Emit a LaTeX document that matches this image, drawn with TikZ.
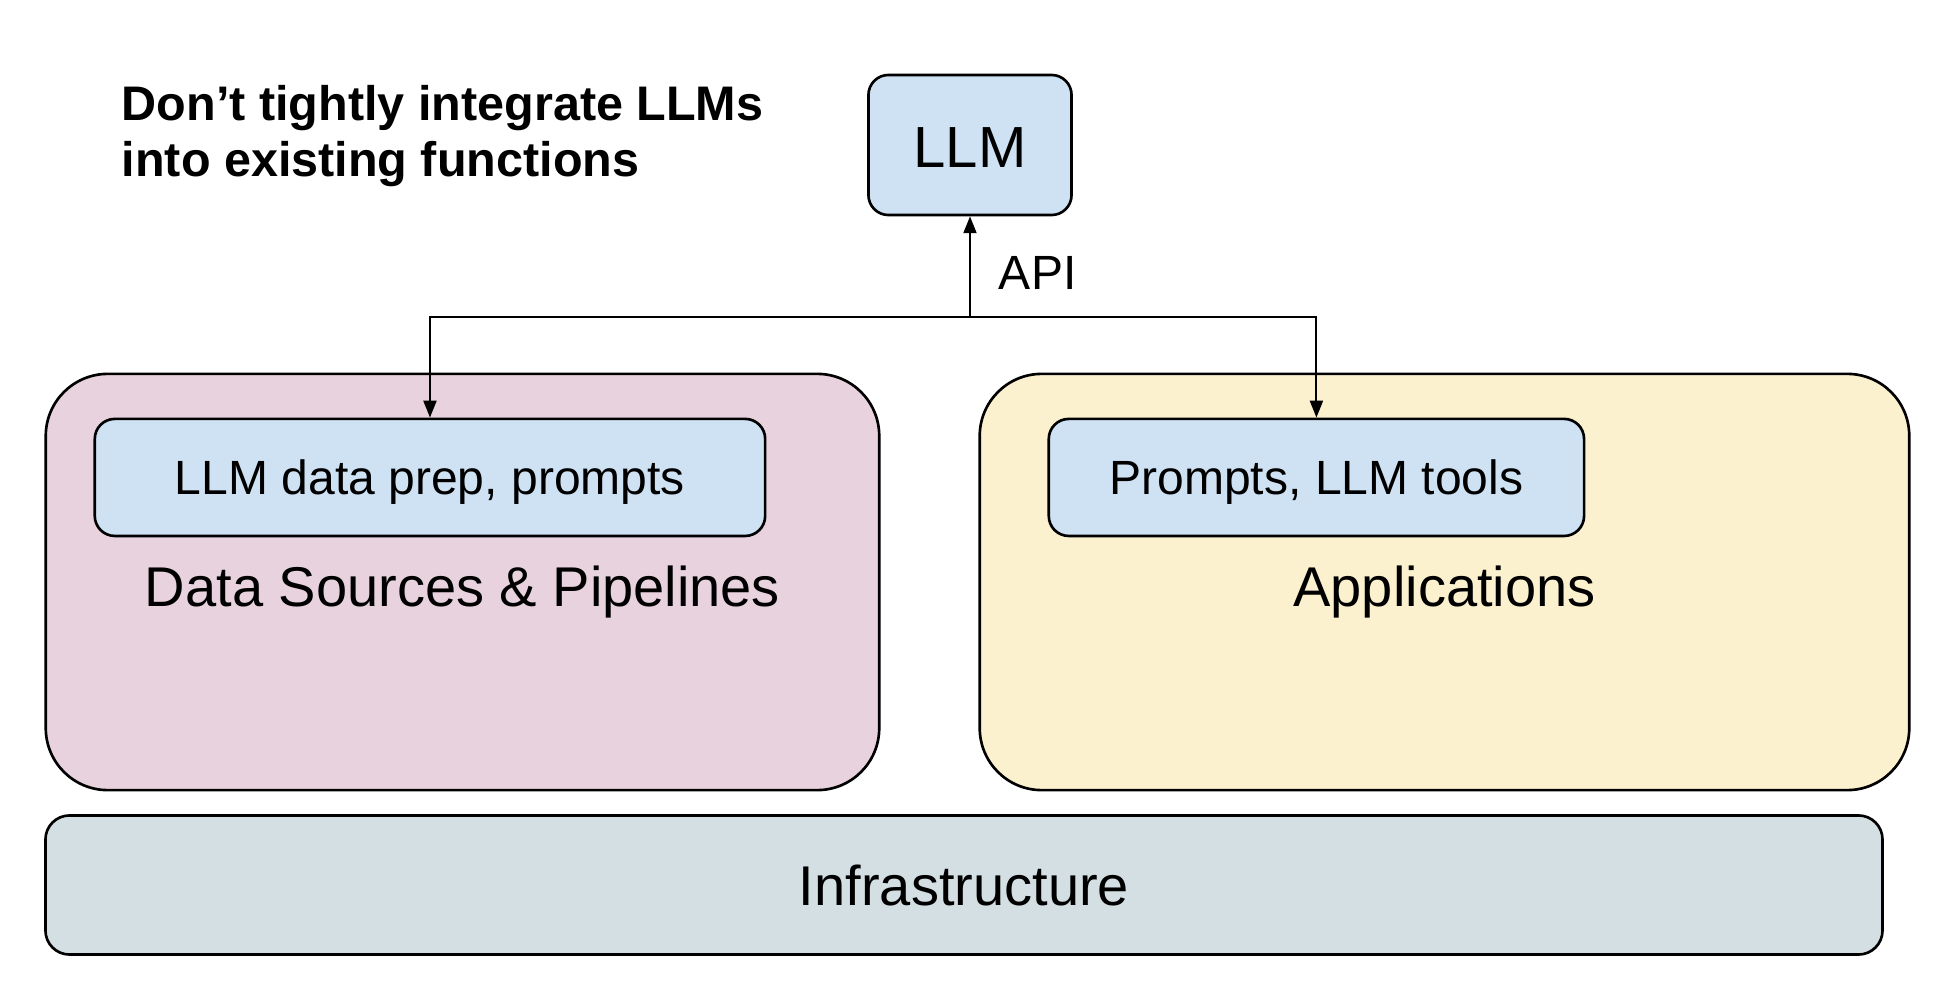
\documentclass[tikz,border=0pt]{standalone}
\usepackage{fontspec}
\setmainfont{Liberation Sans}
\usetikzlibrary{positioning,arrows.meta}
\definecolor{llmblue}{HTML}{CFE2F3}
\definecolor{srcpink}{HTML}{E7D2DD}
\definecolor{appyellow}{HTML}{FCF1CF}
\definecolor{infcyan}{HTML}{D3DFE3}

\begin{document}
\begin{tikzpicture}[x=0.01cm,y=-0.01cm,
  every node/.style={align=center,inner sep=0pt},%
  bx/.style={draw=black,line width=0.75pt},%
  re/.style={rounded corners=0.2cm},%
  rb/.style={rounded corners=0.62cm},%
  e/.style={-{Triangle[length=4.8pt,width=3.7pt]},line width=0.55pt},%
  lb/.style={fill=llmblue},%
  pk/.style={fill=srcpink},%
  yl/.style={fill=appyellow},%
  cy/.style={fill=infcyan},%
  sm/.style={font=\fontsize{13.66}{16}\selectfont,text height=9.8pt,text depth=0pt},%
  bg/.style={font=\fontsize{15.93}{19}\selectfont,text height=11.4pt,text depth=0pt},%
  ]
  \useasboundingbox (0,0) rectangle (1956,982);

  \node (title) [anchor=north west,align=left,%
    font=\fontsize{13.8}{15.93}\selectfont\bfseries%
  ] at (121,85) {Don’t tightly integrate LLMs\\into existing functions};

  \node (llm) [bx,re,lb,minimum width=2.03cm,minimum height=1.4cm,%
    font=\fontsize{16.5}{20}\selectfont,text height=12.65pt,text depth=0pt%
  ] at (970,145) {LLM};

  \node (dsp) [bx,rb,pk,minimum width=8.33cm,minimum height=4.16cm%
  ] at (462.5,582) {};
  \node (app) [bx,rb,yl,minimum width=9.29cm,minimum height=4.16cm%
  ] at (1444.5,582) {};

  \node (prep) [bx,re,lb,sm,minimum width=6.7cm,minimum height=1.17cm,%
    below=0.45cm of dsp.north,xshift=-0.325cm%
  ] {LLM data prep, prompts};
  \node (tools) [bx,re,lb,sm,minimum width=5.35cm,minimum height=1.17cm,%
    below=0.45cm of app.north,xshift=-1.28cm%
  ] {Prompts, LLM tools};

  \node (dspl) [bg,below=0.28cm of prep,xshift=0.325cm] {Data Sources \& Pipelines};
  \node (appl) [bg,below=0.28cm of tools,xshift=1.28cm] {Applications};

  \node (infra) [bx,re,cy,bg,rounded corners=0.24cm,%
    minimum width=18.36cm,minimum height=1.39cm%
  ] at (964,885) {Infrastructure};

  \coordinate (bus) at (llm.south |- 0,317);
  \draw [e] (bus) -- (llm) node [midway,right=0.28cm,yshift=-0.06cm,sm] {API};
  \draw [e] (bus) -| (prep);
  \draw [e] (bus) -| (tools);
\end{tikzpicture}
\end{document}
